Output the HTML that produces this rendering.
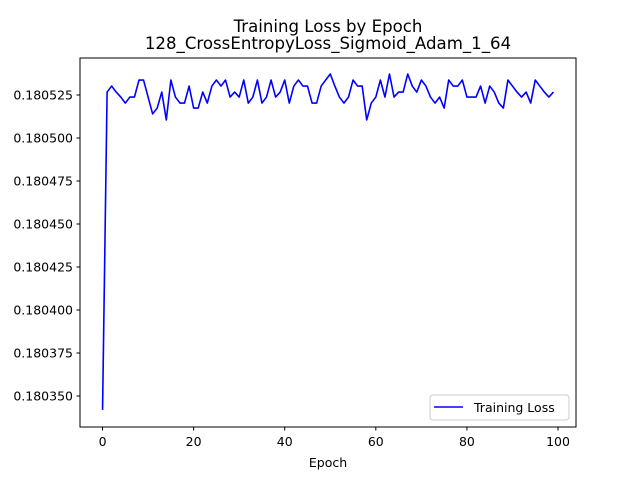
<!DOCTYPE html>
<html><head><meta charset="utf-8"><style>
html,body{margin:0;padding:0;background:#fff;}
svg{display:block;font-family:"DejaVu Sans","Liberation Sans",sans-serif;}
</style></head><body>
<svg id="chart" width="640" height="480" viewBox="0 0 640 480">
<rect x="0" y="0" width="640" height="480" fill="#fff"/>
<text x="328" y="32" font-size="16.6" text-anchor="middle">Training Loss by Epoch</text>
<text x="328" y="49" font-size="16.6" text-anchor="middle">128_CrossEntropyLoss_Sigmoid_Adam_1_64</text>
<g id="xt"></g>
<g id="yt"></g>
<polyline id="line" fill="none" stroke="#0000ff" stroke-width="1.6" stroke-linejoin="round"/>
<rect x="80" y="58" width="496" height="369" fill="none" stroke="#000" stroke-width="1"/>
<text x="328" y="467" font-size="12.5" text-anchor="middle">Epoch</text>
<g>
<rect x="430" y="395" width="139" height="25" rx="3" fill="#fff" fill-opacity="0.8" stroke="#ccc"/>
<line x1="434" y1="407" x2="463" y2="407" stroke="#0000ff" stroke-width="1.6"/>
<text x="474" y="412" font-size="12.5">Training Loss</text>
</g>
</svg>
<script>
const L = {A:0.1805372,B:0.1805337,C:0.1805302,D:0.1805267,E:0.1805238,F:0.1805203,G:0.1805174,H:0.1805140,I:0.1805105};
const codes = "DCDEFEEBBEHGDIBEFFCGGDFCBCBEDEBFEBFEBEDBFCBCCFFCBACEFEBCCIFEBEAEDDACDBCEFEGBCCBEEECFCDFGBCDEDFBCDED";
const lossValues = [0.1803419].concat(codes.split('').map(c=>L[c]));
const xTicks = [0,20,40,60,80,100];
const yTicks = [0.180350,0.180375,0.180400,0.180425,0.180450,0.180475,0.180500,0.180525];
const xMin=-4.95, xMax=103.95, yRef=0.180525, yRefPx=95, pxPerUnit=43/0.000025;
const X = v => 80 + (v - xMin) / (xMax - xMin) * 496;
const Y = v => yRefPx - (v - yRef) * pxPerUnit;
const NS="http://www.w3.org/2000/svg";
const line=document.getElementById('line');
line.setAttribute('points', lossValues.map((v,i)=>X(i).toFixed(2)+','+Y(v).toFixed(2)).join(' '));
const xt=document.getElementById('xt');
xTicks.forEach(t=>{
  const l=document.createElementNS(NS,'line');
  l.setAttribute('x1',X(t));l.setAttribute('x2',X(t));l.setAttribute('y1',427);l.setAttribute('y2',430.5);l.setAttribute('stroke','#000');
  
  
  xt.appendChild(l);
  const s=document.createElementNS(NS,'text');
  s.setAttribute('x',X(t));s.setAttribute('y',446);s.setAttribute('font-size','12.5');s.setAttribute('text-anchor','middle');
  s.textContent=t;
  
  
  xt.appendChild(s);
});
const yt=document.getElementById('yt');
yTicks.forEach(t=>{
  const l=document.createElementNS(NS,'line');
  l.setAttribute('x1',76.5);l.setAttribute('x2',80);l.setAttribute('y1',Y(t));l.setAttribute('y2',Y(t));l.setAttribute('stroke','#000');
  
  
  yt.appendChild(l);
  const s=document.createElementNS(NS,'text');
  s.setAttribute('x',73);s.setAttribute('y',Y(t)+4.5);s.setAttribute('font-size','12.5');s.setAttribute('text-anchor','end');
  s.textContent=t.toFixed(6);
  
  
  yt.appendChild(s);
});
</script>
</body></html>
